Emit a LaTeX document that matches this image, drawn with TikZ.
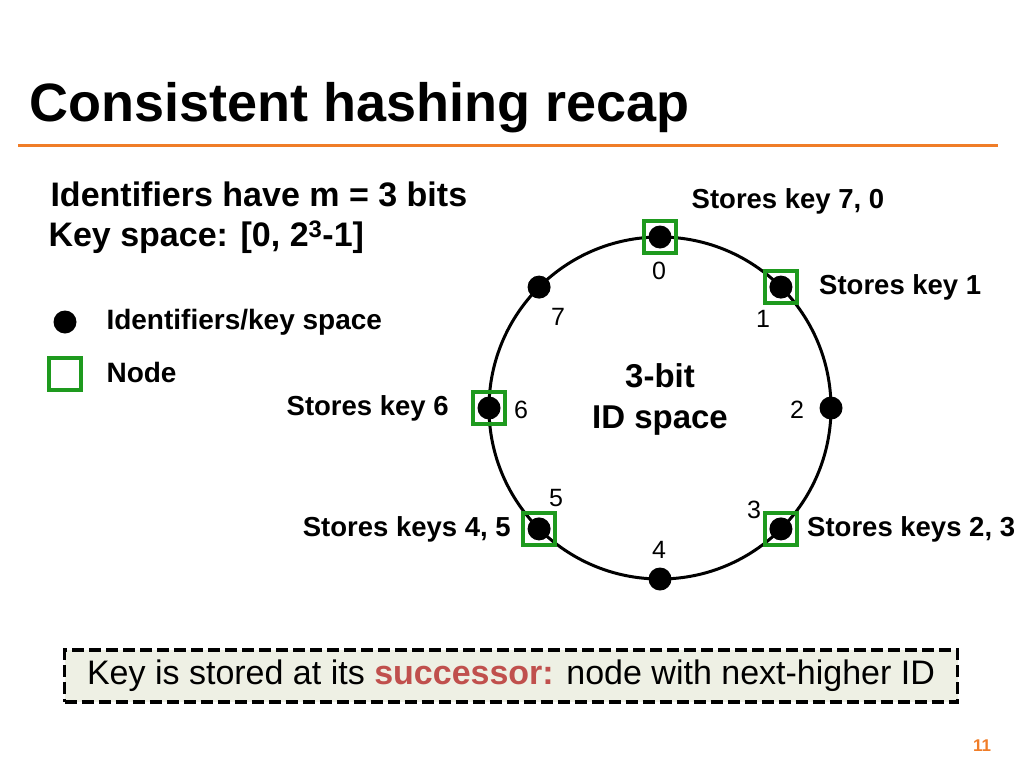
\documentclass[tikz,border=0pt]{standalone}
\usepackage{fontspec}
\setmainfont{Liberation Sans}
\usepackage{xcolor}
\usetikzlibrary{positioning, calc}

\definecolor{slideorange}{HTML}{F07D28}
\definecolor{nodegreen}{HTML}{1E9A1E}
\definecolor{succred}{HTML}{C0504D}
\definecolor{notefill}{HTML}{EEF0E4}

\begin{document}
\begin{tikzpicture}[
    x=1pt, y=-1pt,
    idpoint/.style={circle, fill=black, inner sep=0pt, minimum size=23pt},
    nodebox/.style={draw=nodegreen, line width=3.5pt, inner sep=0pt, minimum size=32pt},
    idnum/.style={font=\fontsize{25}{25}\selectfont},
    stores/.style={font=\bfseries\fontsize{27.5}{27.5}\selectfont},
    heading/.style={anchor=west, font=\bfseries\fontsize{34}{34}\selectfont},
    legendtext/.style={anchor=west, font=\bfseries\fontsize{28}{28}\selectfont}
]
\useasboundingbox (0,0) rectangle (1024,768);

% title and rule
\node[anchor=base west, font=\bfseries\fontsize{54}{54}\selectfont] (title) at (26,121) {Consistent hashing recap};
\draw[slideorange, line width=3pt] (18,145) -- (998,145);

% what the identifiers are
\node[heading] (bits) at (47,194) {Identifiers have m = 3 bits};
\node[heading] (keyspace) at (45,237) {Key space: [0, 2\textsuperscript{3}-1]};

% legend
\node[idpoint] (legdot) at (65,322) {};
\node[legendtext] (legdottext) at (103,322) {Identifiers/key space};
\node[nodebox] (legbox) at (65,374) {};
\node[legendtext] (legboxtext) at (103,372) {Node};

% the ring
\coordinate (ring) at (660,408);
\draw[line width=3pt] (ring) circle[radius=171pt];
\node[align=center, font=\bfseries\fontsize{33}{41}\selectfont] (idspace) at (660,399) {3-bit\\ID space};

\foreach \k in {0,...,7}
    \node[idpoint] (id\k) at ($(ring)+({90-45*\k}:171pt)$) {};
\foreach \k/\px/\py in {0/659/271, 1/763/319, 2/797/410, 3/754/510, 4/659/550, 5/556/498, 6/521/410, 7/558/317}
    \node[idnum] (num\k) at (\px,\py) {\k};

% nodes on the ring
\foreach \k in {0,1,3,5,6}
    \node[nodebox] (node\k) at (id\k) {};

\node[stores] (stores0) at (788,201) {Stores key 7, 0};
\node[stores, right=17pt of node1] (stores1) {Stores key 1};
\node[stores, right=5pt of node3] (stores3) {Stores keys 2, 3};
\node[stores, left=7pt of node5] (stores5) {Stores keys 4, 5};
\node[stores, left=19pt of node6] (stores6) {Stores key 6};

% successor rule
\node[draw, dash pattern=on 12pt off 5pt, line width=3.5pt, fill=notefill,
      minimum width=893pt, minimum height=52pt,
      font=\fontsize{34}{34}\selectfont] (rule) at (511,676)
    {Key is stored at its \textcolor{succred}{\bfseries successor:} node with next-higher ID};

\node[text=slideorange, font=\bfseries\fontsize{17}{17}\selectfont] (pagenum) at (982,746) {11};
\end{tikzpicture}
\end{document}
